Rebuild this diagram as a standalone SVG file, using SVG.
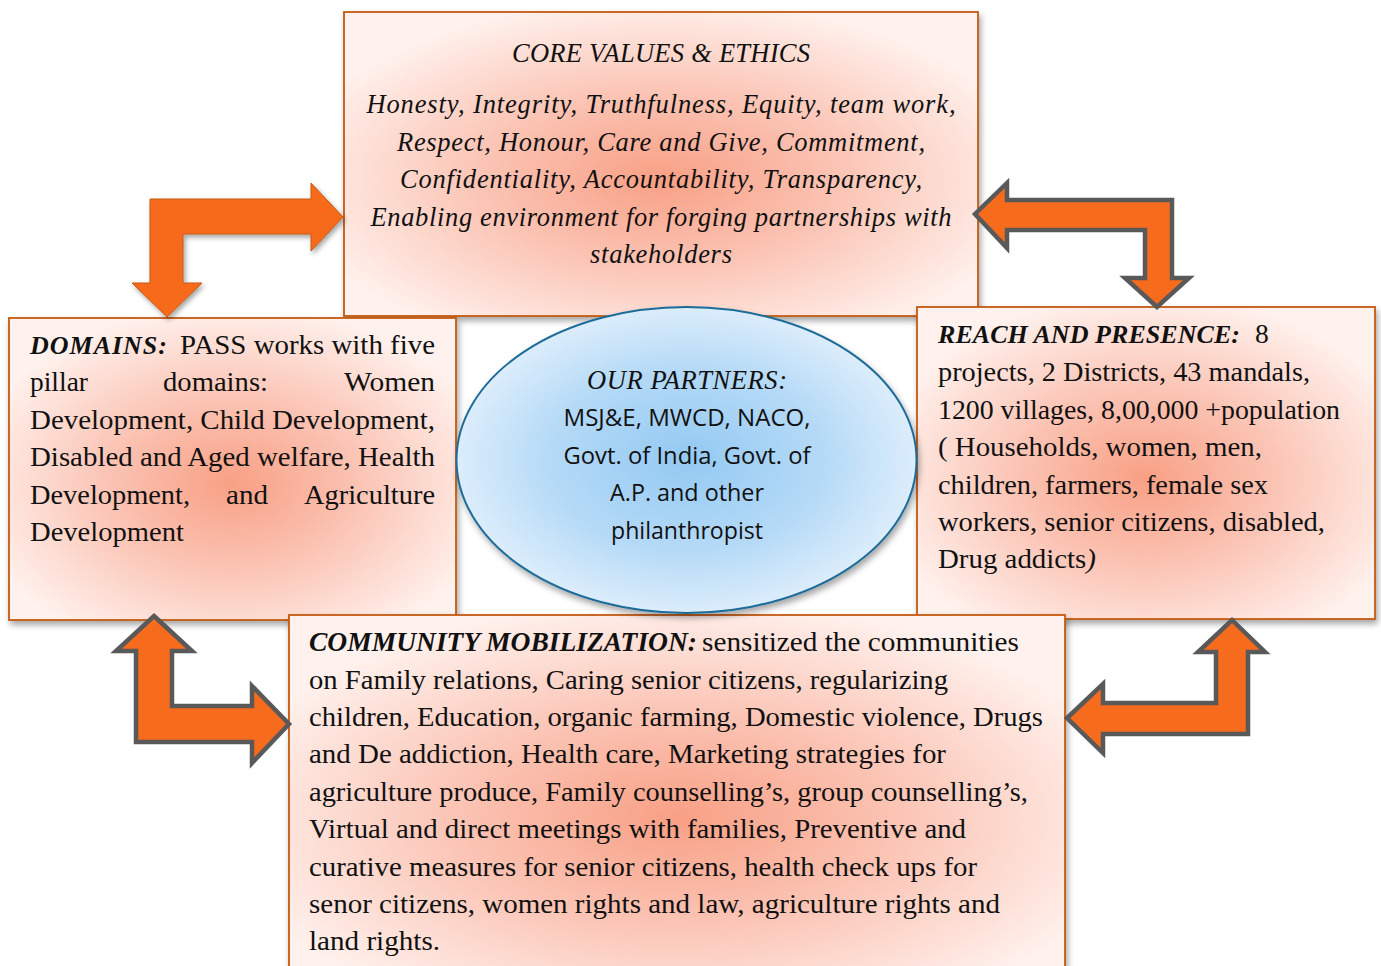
<svg xmlns="http://www.w3.org/2000/svg" width="1381" height="966" viewBox="0 0 1381 966">
<defs>
<radialGradient id="boxg" cx="0.5" cy="0.55" r="0.6">
<stop offset="0" stop-color="#F8A085"/>
<stop offset="0.45" stop-color="#FBC2B2"/>
<stop offset="1" stop-color="#FFF2EE"/>
</radialGradient>
<radialGradient id="ellg" cx="0.5" cy="0.5" r="0.5">
<stop offset="0" stop-color="#94C9F2"/>
<stop offset="0.6" stop-color="#B5DAF7"/>
<stop offset="1" stop-color="#DCEDFB"/>
</radialGradient>
<filter id="sh" x="-10%" y="-10%" width="125%" height="130%">
<feDropShadow dx="2" dy="4" stdDeviation="3" flood-color="#000" flood-opacity="0.35"/>
</filter>
<filter id="ash" x="-20%" y="-20%" width="150%" height="150%">
<feDropShadow dx="2" dy="3" stdDeviation="2.5" flood-color="#000" flood-opacity="0.35"/>
</filter>
</defs>
<style>
.box{fill:url(#boxg);stroke:#C55A11;stroke-width:1.8;filter:url(#sh)}
.ell{fill:url(#ellg);stroke:#1F6C99;stroke-width:2;filter:url(#sh)}
.arr1{fill:#F76B1C;stroke:#C55A11;stroke-width:1;filter:url(#ash)}
.arr2{fill:#F76B1C;stroke:#595959;stroke-width:4.5;stroke-linejoin:miter}
.t{font-family:"Liberation Serif","Times New Roman",serif;font-size:27.5px;fill:#111}
.tc{font-family:"Liberation Serif","Times New Roman",serif;font-size:28px;fill:#111}
.ti{font-family:"Liberation Serif","Times New Roman",serif;font-size:26.5px;font-style:italic;fill:#111}
.tb{font-family:"Liberation Serif","Times New Roman",serif;font-size:26px;font-style:italic;font-weight:bold;fill:#111}
.ts{font-family:"Open Sans","Liberation Sans",sans-serif;font-size:23px;fill:#111}
.c{text-anchor:middle}
</style>

<g id="core-values">
<rect class="box" x="344" y="12" width="634" height="304"/>
<text class="ti c" x="661" y="62" textLength="298">CORE VALUES &amp; ETHICS</text>
<text class="ti c" x="661" y="113" textLength="589">Honesty, Integrity, Truthfulness, Equity, team work,</text>
<text class="ti c" x="661" y="151" textLength="528">Respect, Honour, Care and Give, Commitment,</text>
<text class="ti c" x="661" y="188" textLength="522">Confidentiality, Accountability, Transparency,</text>
<text class="ti c" x="661" y="226" textLength="581">Enabling environment for forging partnerships with</text>
<text class="ti c" x="661" y="263" textLength="142">stakeholders</text>
</g>

<g id="domains">
<rect class="box" x="9" y="318" width="447" height="302"/>
<text class="tb" x="30" y="354" textLength="137">DOMAINS:</text>
<text class="t" x="180" y="354" textLength="255" lengthAdjust="spacingAndGlyphs">PASS works with five</text>
<text class="t" x="30" y="391" textLength="58" lengthAdjust="spacingAndGlyphs">pillar</text>
<text class="t" x="163" y="391" textLength="105" lengthAdjust="spacingAndGlyphs">domains:</text>
<text class="t" x="344" y="391" textLength="91" lengthAdjust="spacingAndGlyphs">Women</text>
<text class="t" x="30" y="429" textLength="405" lengthAdjust="spacingAndGlyphs">Development, Child Development,</text>
<text class="t" x="30" y="466" textLength="405" lengthAdjust="spacingAndGlyphs">Disabled and Aged welfare, Health</text>
<text class="t" x="30" y="504" textLength="160" lengthAdjust="spacingAndGlyphs">Development,</text>
<text class="t" x="226" y="504" textLength="42" lengthAdjust="spacingAndGlyphs">and</text>
<text class="t" x="304" y="504" textLength="131" lengthAdjust="spacingAndGlyphs">Agriculture</text>
<text class="t" x="30" y="541" textLength="154" lengthAdjust="spacingAndGlyphs">Development</text>
</g>

<g id="reach">
<rect class="box" x="917" y="307" width="458" height="312"/>
<text class="tb" x="938" y="343" textLength="302">REACH AND PRESENCE:</text>
<text class="t" x="1255" y="343">8</text>
<text class="t" x="938" y="381" textLength="372" lengthAdjust="spacingAndGlyphs">projects, 2 Districts, 43 mandals,</text>
<text class="t" x="938" y="419" textLength="402" lengthAdjust="spacingAndGlyphs">1200 villages, 8,00,000 +population</text>
<text class="t" x="938" y="456" textLength="324" lengthAdjust="spacingAndGlyphs">( Households, women, men,</text>
<text class="t" x="938" y="494" textLength="330" lengthAdjust="spacingAndGlyphs">children, farmers, female sex</text>
<text class="t" x="938" y="531" textLength="387" lengthAdjust="spacingAndGlyphs">workers, senior citizens, disabled,</text>
<text class="t" x="938" y="568" textLength="158" lengthAdjust="spacingAndGlyphs">Drug addicts<tspan font-style="italic">)</tspan></text>
</g>

<g id="community">
<rect class="box" x="289" y="615" width="776" height="370"/>
<text class="tb" x="309" y="651" textLength="388" lengthAdjust="spacingAndGlyphs" style="font-size:28px">COMMUNITY MOBILIZATION:</text>
<text class="tc" x="702" y="651" textLength="317" lengthAdjust="spacingAndGlyphs">sensitized the communities</text>
<text class="tc" x="309" y="689" textLength="639" lengthAdjust="spacingAndGlyphs">on Family relations, Caring senior citizens, regularizing</text>
<text class="tc" x="309" y="726" textLength="734" lengthAdjust="spacingAndGlyphs">children, Education, organic farming, Domestic violence, Drugs</text>
<text class="tc" x="309" y="763" textLength="637" lengthAdjust="spacingAndGlyphs">and De addiction, Health care, Marketing strategies for</text>
<text class="tc" x="309" y="801" textLength="719" lengthAdjust="spacingAndGlyphs">agriculture produce, Family counselling’s, group counselling’s,</text>
<text class="tc" x="309" y="838" textLength="657" lengthAdjust="spacingAndGlyphs">Virtual and direct meetings with families, Preventive and</text>
<text class="tc" x="309" y="876" textLength="668" lengthAdjust="spacingAndGlyphs">curative measures for senior citizens, health check ups for</text>
<text class="tc" x="309" y="913" textLength="691" lengthAdjust="spacingAndGlyphs">senor citizens, women rights and law, agriculture rights and</text>
<text class="tc" x="309" y="950" textLength="131" lengthAdjust="spacingAndGlyphs">land rights.</text>
</g>

<g id="partners">
<ellipse class="ell" cx="686.5" cy="460" rx="230" ry="153"/>
<text class="ti c" x="687" y="389" textLength="200">OUR PARTNERS:</text>
<text class="ts c" x="687" y="426" textLength="247" lengthAdjust="spacingAndGlyphs">MSJ&amp;E, MWCD, NACO,</text>
<text class="ts c" x="687" y="464" textLength="247" lengthAdjust="spacingAndGlyphs">Govt. of India, Govt. of</text>
<text class="ts c" x="687" y="501" textLength="154" lengthAdjust="spacingAndGlyphs">A.P. and other</text>
<text class="ts c" x="687" y="539" textLength="152" lengthAdjust="spacingAndGlyphs">philanthropist</text>
</g>

<g id="connectors">
<polygon class="arr1" points="150,199 311,199 311,183 343,217 311,251 311,234 183,234 183,283 202,283 167,317 132,283 150,283"/>
<polygon class="arr2" points="975,214 1007,183 1007,200 1172,200 1172,278 1189,278 1157,307 1125,278 1145,278 1145,230 1007,230 1007,248"/>
<polygon class="arr2" points="154,616 192,651 172,651 172,706 252,706 252,686 289,724 252,763 252,742 136,742 136,651 116,651"/>
<polygon class="arr2" points="1232,620 1265,652 1248,652 1248,734 1103,734 1103,753 1067,718 1103,684 1103,703 1216,703 1216,652 1198,652"/>
</g>
</svg>
